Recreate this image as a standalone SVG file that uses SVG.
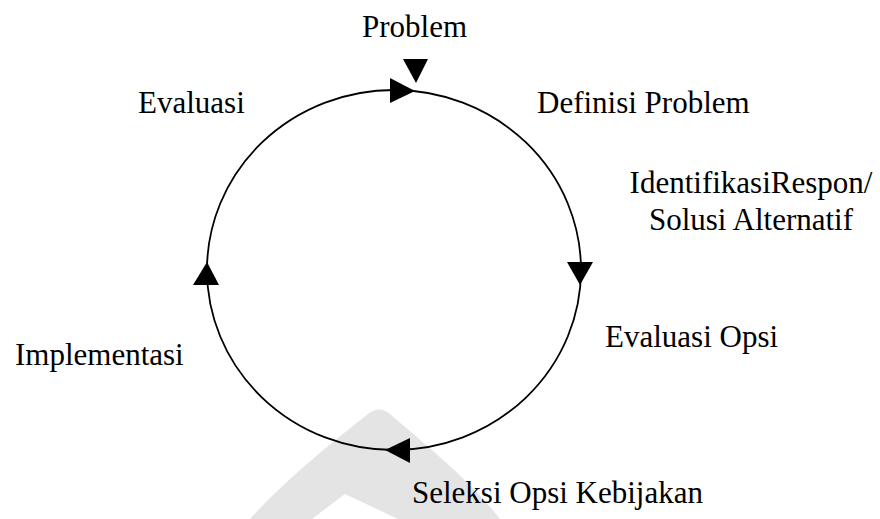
<svg xmlns="http://www.w3.org/2000/svg" width="880" height="519" viewBox="0 0 880 519">
<style>
.t{font-family:"Liberation Serif","Times New Roman",serif;font-size:31px;fill:#000}
.c{fill:none;stroke:#000;stroke-width:1.8}
.a{fill:#000}
</style>
<rect width="880" height="519" fill="#fff"/>
<path d="M368,414 C335,440 285,480 250,519 L312,519 L345,494 L398,519 L500,519 C470,480 420,440 390,414 Q379,405 368,414 Z" fill="#e4e4e4"/>
<g id="connectors">
<ellipse class="c" cx="394" cy="270" rx="187" ry="180"/>
<polygon class="a" points="390,78 390,103 415,91"/>
<polygon class="a" points="567,262 593,262 580,285"/>
<polygon class="a" points="410,438 410,463 385,450"/>
<polygon class="a" points="193,285 219,285 207,262"/>
<polygon class="a" points="403,59 428,59 416,83"/>
</g>
<g id="problem"><text class="t" x="362" y="37">Problem</text></g>
<g id="definisi"><text class="t" x="537" y="113">Definisi Problem</text></g>
<g id="identifikasi"><text class="t" x="751" y="193" text-anchor="middle">IdentifikasiRespon/</text><text class="t" x="751" y="230" text-anchor="middle">Solusi Alternatif</text></g>
<g id="evaluasi-opsi"><text class="t" x="605" y="347">Evaluasi Opsi</text></g>
<g id="seleksi"><text class="t" x="412" y="503">Seleksi Opsi Kebijakan</text></g>
<g id="implementasi"><text class="t" x="15" y="365">Implementasi</text></g>
<g id="evaluasi"><text class="t" x="138" y="113">Evaluasi</text></g>
</svg>
